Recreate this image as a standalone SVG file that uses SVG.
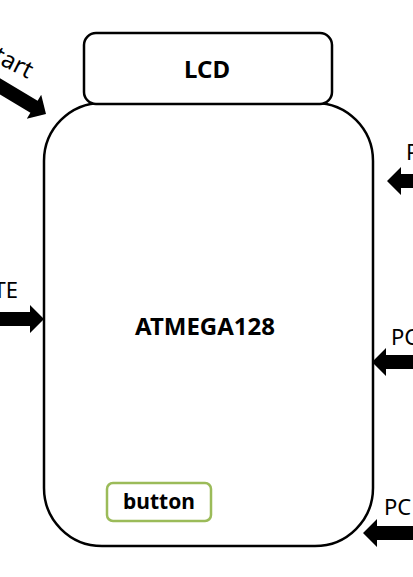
<svg xmlns="http://www.w3.org/2000/svg" width="413" height="577" viewBox="0 0 413 577">
<style>
.box{fill:#fff;stroke:#000;stroke-width:2.5}
.btn{fill:#fff;stroke:#9BBB59;stroke-width:2.5}
.lbl{font-family:"Noto Sans","Open Sans",sans-serif;font-size:22px;fill:#000}
.b{font-weight:bold;text-anchor:middle;font-size:24px}
.arr{fill:#000}
</style>
<defs>
<path id="ar" d="M0,0 L-14,-14 L-14,-7 L-80,-7 L-80,7 L-14,7 L-14,14 Z"/>
</defs>
<rect width="413" height="577" fill="#fff"/>
<g id="main">
<rect class="box" x="44" y="103" width="329" height="443" rx="58" ry="58"/>
<text class="lbl b" x="205" y="335">ATMEGA128</text>
</g>
<g id="lcd">
<rect class="box" x="84" y="33" width="248" height="71" rx="12" ry="12"/>
<text class="lbl b" x="207" y="78">LCD</text>
</g>
<g id="button">
<rect class="btn" x="107" y="483" width="104" height="38" rx="6" ry="6"/>
<text class="lbl b" x="159" y="509" style="font-size:21px">button</text>
</g>
<g id="labels">
<text class="lbl" x="28" y="79" text-anchor="end" transform="rotate(27 28 79)" style="font-size:24px">Start</text>
<text class="lbl" x="18" y="298" text-anchor="end">TE</text>
<text class="lbl" x="406" y="160">P</text>
<text class="lbl" x="391" y="345">PC</text>
<text class="lbl" x="384" y="515">PC</text>
</g>
<g id="connectors">
<use class="arr" href="#ar" transform="translate(46,114) rotate(31)"/>
<use class="arr" href="#ar" transform="translate(44,319)"/>
<use class="arr" href="#ar" transform="translate(387,181) rotate(180)"/>
<use class="arr" href="#ar" transform="translate(372,362) rotate(180)"/>
<use class="arr" href="#ar" transform="translate(363,533) rotate(180)"/>
</g>
</svg>
